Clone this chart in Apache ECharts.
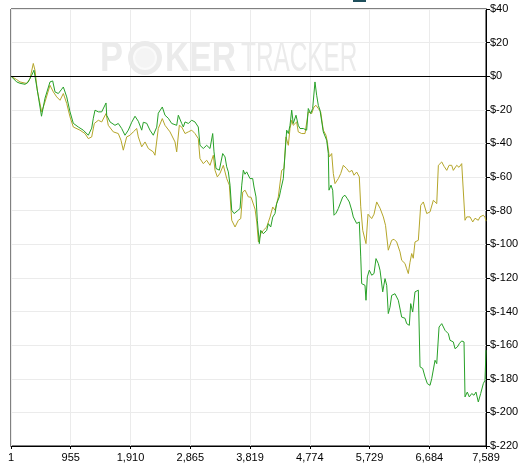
<!DOCTYPE html>
<html>
<head>
<meta charset="utf-8">
<script src="https://cdn.jsdelivr.net/npm/echarts@6/dist/echarts.min.js"></script>
<style>html,body{margin:0;padding:0;background:#fff}#c{width:525px;height:468px}</style>
</head>
<body>
<div id="c"></div>
<script>
const xTicks = [1, 955, 1910, 2865, 3819, 4774, 5729, 6684, 7589];

const greenHands = [1,92,145,225,273,332,368,416,488,544,624,667,704,757,811,837,891,944,996,1076,1156,1236,1290,1316,1343,1396,1450,1519,1530,1583,1662,1715,1769,1822,1875,1929,1982,2035,2089,2115,2169,2221,2274,2329,2354,2418,2461,2514,2568,2648,2674,2701,2728,2754,2781,2834,2888,2940,2993,3020,3073,3127,3180,3223,3244,3276,3329,3383,3420,3447,3473,3500,3527,3565,3612,3660,3687,3712,3739,3766,3819,3862,3883,3915,3936,3968,3990,4032,4086,4112,4150,4182,4218,4245,4287,4309,4351,4378,4405,4431,4458,4485,4510,4554,4590,4618,4671,4698,4724,4750,4788,4820,4857,4884,4910,4937,4990,5017,5044,5070,5081,5113,5140,5161,5193,5230,5257,5300,5336,5373,5405,5444,5469,5496,5523,5565,5588,5603,5656,5672,5693,5725,5763,5800,5832,5869,5896,5939,5976,6003,6028,6055,6082,6135,6188,6242,6295,6322,6364,6386,6418,6455,6508,6535,6578,6615,6652,6695,6722,6775,6802,6839,6882,6935,6988,7014,7067,7094,7131,7166,7201,7238,7254,7290,7322,7361,7397,7429,7466,7504,7546,7573,7589];
const greenValues = [0,-3.4,-4.2,-4.8,-3.6,0.6,3.6,-7.1,-23.8,-13.1,-3.4,-2.8,-9.3,-10.3,-7.7,-6.4,-12.3,-21.2,-28.0,-30.2,-32.1,-35.1,-30.9,-25.0,-20.2,-21.2,-21.2,-15.9,-23.2,-27.2,-29.2,-28.1,-31.1,-35.1,-32.1,-27.4,-23.8,-26.8,-32.1,-27.4,-28.0,-32.1,-35.1,-30.3,-22.0,-18.3,-23.2,-25.0,-28.1,-29.2,-23.2,-22.2,-28.1,-30.2,-27.2,-28.1,-26.2,-27.2,-30.2,-41.1,-43.0,-41.1,-43.0,-34.1,-45.0,-54.9,-55.9,-46.0,-48.0,-53.9,-56.9,-64.8,-79.7,-81.7,-80.3,-78.7,-64.8,-55.9,-58.3,-56.9,-60.9,-60.9,-65.9,-71.8,-85.7,-99.6,-91.7,-93.7,-91.7,-87.7,-89.7,-83.8,-81.7,-75.8,-71.8,-67.8,-60.9,-60.9,-32.1,-34.1,-29.2,-20.2,-28.1,-23.2,-29.2,-31.1,-31.1,-30.2,-32.1,-19.2,-22.2,-19.2,-3.4,-11.3,-17.3,-20.2,-33.1,-32.1,-38.1,-46.0,-67.8,-64.8,-67.8,-82.7,-81.5,-78.7,-77.7,-71.8,-70.8,-72.8,-74.8,-79.7,-83.7,-84.5,-87.6,-86.7,-107.5,-123.4,-124.4,-133.3,-119.4,-115.4,-118.4,-117.4,-108.5,-111.5,-115.4,-128.3,-120.4,-124.4,-141.2,-137.5,-130.4,-129.4,-133.3,-143.3,-144.0,-147.2,-148.2,-135.3,-140.3,-128.3,-127.3,-172.9,-173.9,-178.9,-182.9,-183.9,-179.9,-169.0,-171.0,-149.2,-147.2,-151.2,-153.2,-157.1,-158.1,-162.1,-161.1,-158.9,-157.5,-158.1,-190.8,-187.9,-190.8,-188.8,-189.8,-187.9,-193.8,-188.8,-182.9,-180.9,-163.0];

const yellowHands = [1,92,145,252,305,357,384,421,453,491,544,624,677,731,784,837,891,944,996,1103,1183,1236,1290,1332,1396,1450,1519,1555,1635,1715,1758,1795,1849,1902,1955,2009,2035,2089,2142,2195,2274,2301,2354,2418,2461,2541,2621,2648,2690,2728,2781,2834,2888,2940,2993,3020,3073,3127,3180,3233,3260,3297,3340,3393,3447,3489,3527,3580,3633,3671,3703,3740,3793,3836,3900,3927,3953,3991,4032,4086,4139,4182,4218,4271,4325,4362,4394,4431,4458,4485,4510,4564,4590,4644,4698,4724,4750,4804,4841,4873,4910,4948,4990,5033,5054,5086,5124,5150,5177,5230,5268,5310,5364,5405,5448,5480,5523,5565,5588,5620,5648,5672,5704,5763,5800,5843,5896,5949,5984,6028,6082,6119,6162,6215,6242,6295,6319,6348,6375,6402,6427,6455,6508,6546,6588,6642,6695,6748,6802,6828,6882,6919,6962,6999,7041,7067,7121,7158,7201,7227,7254,7281,7334,7377,7414,7466,7493,7546,7573,7589];
const yellowValues = [0,-2.0,-3.4,-4.3,-1.4,7.6,3.6,-8.3,-14.3,-21.2,-15.3,-5.4,-9.3,-12.3,-14.3,-10.3,-16.2,-24.2,-30.2,-32.1,-34.1,-37.1,-36.1,-28.1,-26.2,-27.2,-22.2,-29.2,-33.1,-34.1,-38.1,-44.0,-36.1,-35.1,-33.1,-31.1,-36.1,-42.0,-39.1,-43.0,-45.0,-47.0,-31.1,-25.2,-29.2,-33.1,-39.1,-45.0,-29.2,-30.2,-34.1,-33.1,-32.1,-34.1,-37.1,-49.0,-52.0,-50.0,-53.0,-47.0,-55.9,-59.9,-57.7,-53.0,-60.9,-64.8,-85.7,-89.7,-85.7,-84.7,-68.9,-67.8,-71.8,-72.0,-79.1,-86.7,-98.6,-93.7,-91.7,-89.7,-83.8,-77.8,-79.7,-71.8,-56.0,-55.0,-36.1,-41.1,-31.1,-26.2,-29.2,-27.2,-33.1,-34.1,-34.1,-35.1,-21.2,-22.2,-18.3,-17.3,-19.2,-21.2,-32.1,-35.1,-39.1,-48.0,-46.0,-57.9,-63.9,-60.9,-57.9,-53.0,-55.0,-57.0,-56.0,-58.9,-57.0,-59.9,-77.7,-91.7,-91.7,-99.6,-82.1,-84.7,-82.1,-74.8,-78.5,-83.7,-88.7,-103.5,-97.6,-97.0,-98.6,-104.5,-109.5,-111.4,-114.2,-117.4,-110.7,-105.5,-108.3,-98.6,-97.6,-76.8,-74.8,-81.7,-80.7,-73.8,-75.8,-53.0,-51.0,-53.6,-56.0,-53.0,-53.0,-56.0,-53.0,-54.2,-52.0,-53.0,-85.7,-83.7,-83.7,-86.7,-84.5,-85.7,-83.7,-82.7,-83.9,-86.2];

const pairs = (xs, ys) => xs.map((x, i) => [x, ys[i]]);
const FONT = 'Liberation Sans';
const WM = '#ebebeb';

const chart = echarts.init(document.getElementById('c'), null, {renderer: 'canvas'});
chart.setOption({
  animation: false,
  backgroundColor: '#fff',
  grid: {left: 11, right: 39, top: 9, bottom: 22, show: true, borderColor: '#000', borderWidth: 1, backgroundColor: 'transparent', outerBoundsMode: 'none'},
  graphic: [
    {type: 'rect', left: 353, top: 0, shape: {width: 13, height: 2}, style: {fill: '#1f4f5c'}, z: 10},
    {type: 'text', left: 100, top: 38, z: 1, scaleX: 0.82, style: {text: 'P', font: 'bold 42px "Liberation Sans"', fill: WM}},
    {type: 'circle', shape: {cx: 145, cy: 58, r: 17}, style: {fill: WM}, z: 1},
    {type: 'circle', shape: {cx: 145, cy: 58, r: 11}, style: {fill: '#f4f4f4', stroke: '#fafafa', lineWidth: 2}, z: 1},
    {type: 'text', left: 165, top: 38, z: 1, scaleX: 0.8, style: {text: 'KER', font: 'bold 42px "Liberation Sans"', fill: WM}},
    {type: 'text', left: 241, top: 38, z: 1, scaleX: 0.58, style: {text: 'TRACKER', font: '42px "Liberation Sans"', fill: WM}}
  ],
  xAxis: {
    type: 'value', min: 1, max: 7589, position: 'bottom',
    axisLine: {show: true, onZero: false, lineStyle: {color: '#000', width: 1}},
    axisTick: {show: true, customValues: xTicks, length: 3, lineStyle: {color: '#000'}},
    axisLabel: {customValues: xTicks, formatter: v => Number(v).toLocaleString('en-US'), color: '#000', fontSize: 11, fontFamily: FONT, margin: 6},
    splitLine: {show: true, lineStyle: {color: '#ebebeb', width: 1}}
  },
  yAxis: {
    type: 'value', position: 'right', min: -220, max: 40, interval: 20,
    axisLine: {show: true, lineStyle: {color: '#000', width: 1}},
    axisTick: {show: true, length: 4, lineStyle: {color: '#000'}},
    axisLabel: {formatter: v => '$' + v, color: '#000', fontSize: 11, fontFamily: FONT, margin: 4},
    splitLine: {show: true, lineStyle: {color: '#ebebeb', width: 1}}
  },
  series: [
    {name: 'All-in EV', type: 'line', data: pairs(yellowHands, yellowValues), showSymbol: false, symbol: 'none',
     lineStyle: {color: '#b5a62a', width: 1}, itemStyle: {color: '#b5a62a'}, z: 3},
    {name: 'Net Won', type: 'line', data: pairs(greenHands, greenValues), showSymbol: false, symbol: 'none',
     lineStyle: {color: '#27a127', width: 1}, itemStyle: {color: '#27a127'}, z: 4,
     markLine: {silent: true, symbol: 'none', label: {show: false}, lineStyle: {color: '#000', width: 1, type: 'solid'}, data: [{yAxis: 0}]}}
  ]
});
</script>
</body>
</html>
